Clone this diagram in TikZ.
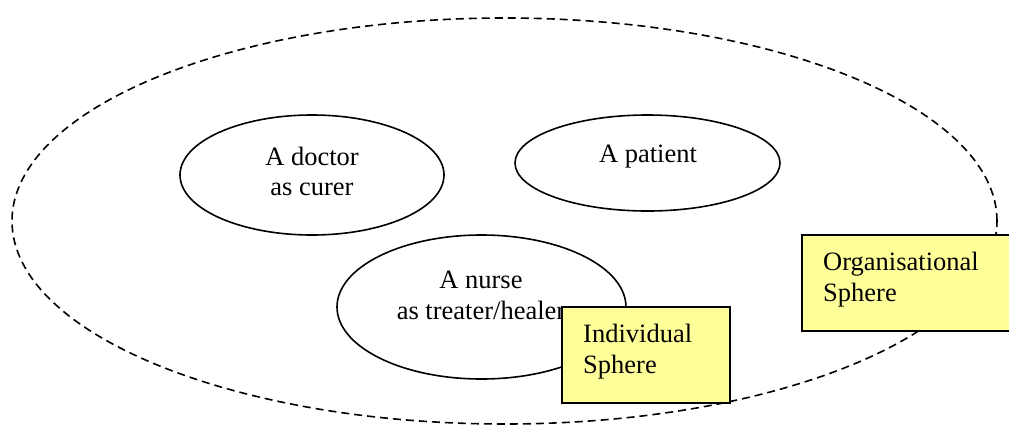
\documentclass[tikz,border=0pt]{standalone}
\usepackage{fontspec}
\setmainfont{Liberation Serif}
\usetikzlibrary{shapes.geometric}
\definecolor{boxyellow}{HTML}{FFFF99}
\begin{document}
\begin{tikzpicture}[x=1pt,y=-1pt,
  role/.style={draw, ellipse, line width=1.6pt, fill=white, inner sep=0pt},
  outer/.style={draw, ellipse, line width=1.6pt, dash pattern=on 8pt off 5pt, inner sep=0pt},
  sphere/.style={draw, line width=1.8pt, fill=boxyellow, inner sep=0pt},
  lbl/.style={font=\fontsize{26.5}{30.5}\selectfont, inner sep=0pt, anchor=base},
]
\useasboundingbox (0,0) rectangle (1009,426);
\clip (0,0) rectangle (1009,426);
\node[outer, minimum width=985pt, minimum height=406pt] (orgsphere) at (504.5,221) {};
\node[role, minimum width=264pt, minimum height=120pt] (doctor) at (312,175) {};
\node[role, minimum width=265pt, minimum height=96pt] (patient) at (647.5,163) {};
\node[role, minimum width=289pt, minimum height=144pt] (nurse) at (481.5,307) {};
\node[lbl, align=center] (doctortext) at (312,195.5) {A doctor\\as curer};
\node[lbl, align=center] (patienttext) at (648,162) {A patient};
\node[lbl, align=center] (nursetext) at (481,319) {A nurse\\as treater/healer};
\node[sphere, minimum width=168pt, minimum height=96pt] (indiv) at (646,355) {};
\node[sphere, minimum width=213pt, minimum height=96pt] (org) at (908.5,283) {};
\node[lbl, anchor=base west, align=left] (indivtext) at (583,373) {Individual\\Sphere};
\node[lbl, anchor=base west, align=left] (orgtext) at (823,301) {Organisational\\Sphere};
\end{tikzpicture}
\end{document}
